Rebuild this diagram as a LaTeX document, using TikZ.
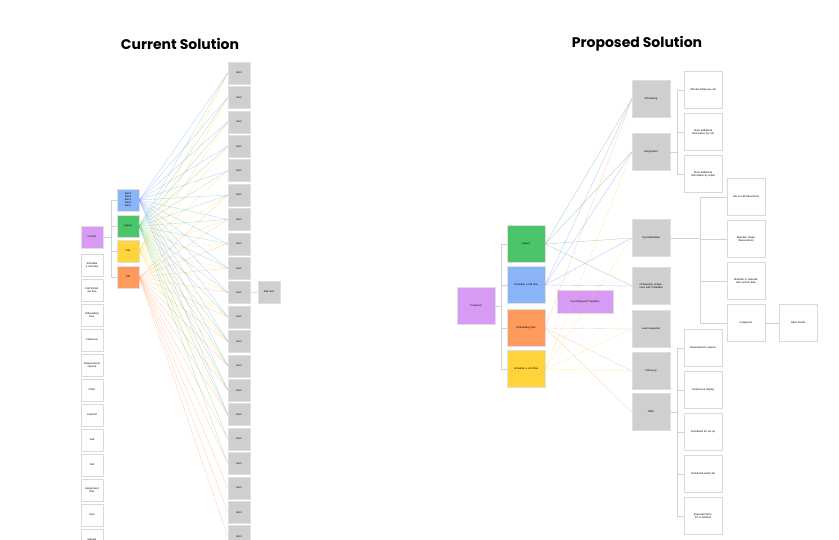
\documentclass[tikz,border=0pt]{standalone}
\usepackage{fontspec}
\setmainfont{Liberation Sans}
\newfontfamily\titlefont{Poppins}
\definecolor{pur}{HTML}{D79BF5}
\definecolor{grn}{HTML}{4CC46A}
\definecolor{blu}{HTML}{8AB4F8}
\definecolor{orn}{HTML}{FF9A5E}
\definecolor{ylw}{HTML}{FFD43B}
\begin{document}
\begin{tikzpicture}[x=1pt,y=-1pt,
  base/.style={inner sep=1pt,align=center,font=\fontsize{2.6}{3}\selectfont,text width=#1},
  base/.default=28pt,
  gbox/.style={base,fill=gray!38,draw=gray!25,minimum width=38,minimum height=37},
  wbox/.style={base,fill=white,draw=gray!30,minimum width=38,minimum height=37},
  sg/.style={base=18pt,fill=gray!38,draw=gray!25,minimum width=22,minimum height=22},
  sw/.style={base=18pt,fill=white,draw=gray!30,minimum width=22,minimum height=22},
  tree/.style={draw=gray!35,line width=0.5pt},
  ln/.style={line width=0.35pt,opacity=0.45}]
\useasboundingbox (0,0) rectangle (839,540);
\node[font=\titlefont\bfseries\fontsize{14}{17}\selectfont] (t1) at (180,44) {Current Solution};
\node[font=\titlefont\bfseries\fontsize{14}{17}\selectfont] (t2) at (637,44) {Proposed Solution};
% ---------- left ----------
\node[sg,fill=pur] (cur) at (92,237) {Current};
\node[sg,fill=blu] (lb) at (128,200) {Items\\Items\\Items\\Items\\Items};
\node[sg,fill=grn] (lg) at (128,226) {Legacy};
\node[sg,fill=ylw] (ly) at (128,251) {Visit};
\node[sg,fill=orn] (lo) at (128,277) {Call};
\foreach \n in {lb,lg,ly,lo} \draw[tree] (cur.east) -- ++(8,0) |- (\n.west);
\foreach \i/\t in {0/Schedule a visit flow,1/Call Schedule flow,2/Onboarding flow,3/Follow-up,4/Requirements capture,5/Other,6/Lead list,7/Visit,8/Call,9/Assignment flow,10/Sync,11/Manual}
  \node[sw] (w\i) at (92,265+25*\i) {\t};
\foreach \i in {0,...,19}
  \node[sg] (g\i) at (239,73+24.4*\i) {Item};
\node[sg] (gx) at (269,292) {Sub item};
\draw[tree] (g9) -- (gx);
\foreach \i in {0,...,14} \draw[ln,blu!80!blue] (lb.east) -- (g\i.west);
\foreach \i in {0,...,16} \draw[ln,grn] (lg.east) -- (g\i.west);
\foreach \i in {0,...,14} \draw[ln,ylw] (ly.east) -- (g\i.west);
\foreach \i in {5,...,19} \draw[ln,orn] (lo.east) -- (g\i.west);
% ---------- right ----------
\node[gbox,fill=pur] (root) at (476,306) {Proposed};
\node[gbox,fill=grn] (rg) at (526,244) {Legacy};
\node[gbox,fill=blu] (rb) at (526,285) {Schedule a call flow};
\node[gbox,fill=orn] (ro) at (526,328) {Onboarding flow};
\node[gbox,fill=ylw] (ry) at (526,369) {Schedule a visit flow};
\node[base=50pt,fill=pur,draw=gray!25,minimum width=56,minimum height=23] (sync) at (585,302) {Sync/Request Properties};
\foreach \n in {rg,rb,ro,ry} \draw[tree] (root.east) -- ++(6,0) |- (\n.west);
\node[gbox] (s1) at (651,99) {Scheduling};
\node[gbox] (s2) at (651,152) {Assignment};
\node[gbox] (s3) at (651,238) {Sync/Metadata};
\node[gbox] (s4) at (651,286) {Onboarding assignment with metadata};
\node[gbox] (s5) at (651,329) {Lead requested};
\node[gbox] (s6) at (651,371) {Follow-up};
\node[gbox] (s7) at (651,412) {Other};
\node[wbox] (a1) at (703,90) {Allocate follow-up call};
\node[wbox] (a2) at (703,132) {Store additional information by call};
\node[wbox] (a3) at (703,174) {Store additional information by email};
\node[wbox] (b1) at (746,197) {Get on call (directions)};
\node[wbox] (b2) at (746,239) {Maintain cheap (Reservation)};
\node[wbox] (b3) at (746,281) {Maintain in calendar with custom date};
\node[wbox] (b4) at (746,323) {Categories};
\node[wbox] (b5) at (798,323) {Open Fields};
\node[wbox] (c1) at (703,348) {Requirements capture};
\node[wbox] (c2) at (703,390) {Conference display};
\node[wbox] (c3) at (703,432) {Scheduled for set up};
\node[wbox] (c4) at (703,474) {Scheduled visitor list};
\node[wbox] (c5) at (703,516) {Expected transfer to landlord};
\foreach \n in {a1,a2,a3} \draw[tree] (s2.east) -- ++(7,0) |- (\n.west);
\foreach \n in {b1,b2,b3,b4} \draw[tree] (s3.east) -- ++(30,0) |- (\n.west);
\draw[tree] (b4) -- (b5);
\foreach \n in {c1,c2,c3,c4,c5} \draw[tree] (s7.east) -- ++(7,0) |- (\n.west);
\foreach \n in {s1,s2,s3,s4} \draw[ln,grn!80!black] (rg.east) -- (\n.west);
\foreach \n in {s1,s2,s3,s4} \draw[ln,blu!70!blue] (rb.east) -- (\n.west);
\foreach \n in {s1,s5,s6,s7} \draw[ln,orn] (ro.east) -- (\n.west);
\foreach \n in {s2,s3,s5,s6} \draw[ln,ylw] (ry.east) -- (\n.west);
\end{tikzpicture}
\end{document}
